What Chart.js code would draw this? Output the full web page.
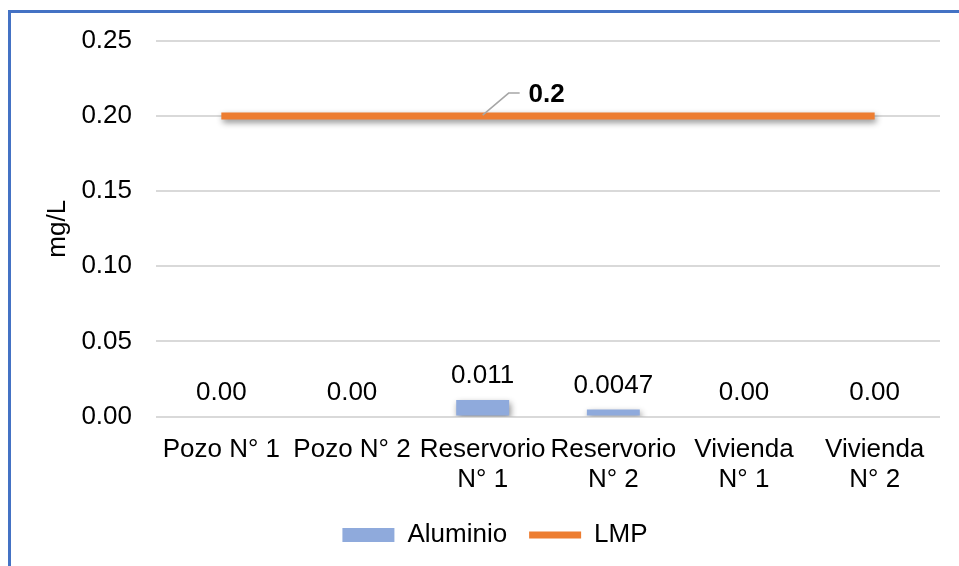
<!DOCTYPE html>
<html>
<head>
<meta charset="utf-8">
<script src="https://cdn.jsdelivr.net/npm/chart.js@4/dist/chart.umd.min.js"></script>
<style>
  html, body { margin: 0; padding: 0; background: #fff; }
  #wrap { position: relative; width: 959px; height: 566px; overflow: hidden; }
  #frame { position: absolute; left: 8px; top: 10px; right: 0; bottom: 0;
           border-left: 3px solid #4472C4; border-top: 3px solid #4472C4; pointer-events: none; }
  canvas { position: absolute; left: 0; top: 0; }
</style>
</head>
<body>
<div id="wrap">
  <canvas id="c" width="959" height="566"></canvas>
  <div id="frame"></div>
</div>
<script>
// Sampling points
const categories = [
  'Pozo N° 1',
  'Pozo N° 2',
  ['Reservorio', 'N° 1'],
  ['Reservorio', 'N° 2'],
  ['Vivienda', 'N° 1'],
  ['Vivienda', 'N° 2']
];
// Measured aluminium (mg/L)
const aluminio = [0, 0, 0.011, 0.0047, 0, 0];
// Maximum permissible limit (mg/L)
const lmp = [0.2, 0.2, 0.2, 0.2, 0.2, 0.2];
// Y axis ticks
const yTicks = [0, 0.05, 0.10, 0.15, 0.20, 0.25];

const FONT = 'Liberation Sans, Arial, sans-serif';
const FS = 26;
const BAR_COLOR = '#8FAADC';
const LINE_COLOR = '#ED7D31';

function fmtAl(v) { return v === 0 ? '0.00' : String(v); }

// Soft drop shadow under bars and the limit line
const shadowPlugin = {
  id: 'shadow',
  beforeDatasetDraw(chart) {
    const ctx = chart.ctx;
    ctx.save();
    ctx.shadowColor = 'rgba(0,0,0,0.45)';
    ctx.shadowBlur = 6;
    ctx.shadowOffsetX = 1.5;
    ctx.shadowOffsetY = 3;
  },
  afterDatasetDraw(chart) { chart.ctx.restore(); }
};

// Value labels
const labelPlugin = {
  id: 'valueLabels',
  afterDatasetsDraw(chart) {
    const ctx = chart.ctx;
    ctx.save();
    ctx.fillStyle = '#000';
    ctx.textAlign = 'center';
    ctx.textBaseline = 'middle';
    ctx.font = FS + 'px ' + FONT;
    const barMeta = chart.getDatasetMeta(0);
    barMeta.data.forEach((el, i) => {
      ctx.fillText(fmtAl(aluminio[i]), el.x, el.y - 24);
    });
    // limit label with leader line
    const lineMeta = chart.getDatasetMeta(1);
    const p = lineMeta.data[2];
    ctx.strokeStyle = '#A6A6A6';
    ctx.lineWidth = 1.5;
    ctx.beginPath();
    ctx.moveTo(p.x, p.y - 1);
    ctx.lineTo(p.x + 26, p.y - 23);
    ctx.lineTo(p.x + 37, p.y - 23);
    ctx.stroke();
    ctx.font = 'bold ' + FS + 'px ' + FONT;
    ctx.fillText(String(lmp[2]), p.x + 64, p.y - 21);
    ctx.restore();
  }
};

new Chart(document.getElementById('c'), {
  data: {
    labels: categories,
    datasets: [
      {
        type: 'bar',
        label: 'Aluminio',
        data: aluminio,
        backgroundColor: BAR_COLOR,
        borderWidth: 0,
        categoryPercentage: 1.0,
        barPercentage: 0.405
      },
      {
        type: 'line',
        label: 'LMP',
        data: lmp,
        borderColor: LINE_COLOR,
        backgroundColor: LINE_COLOR,
        borderWidth: 7,
        borderCapStyle: 'butt',
        pointRadius: 0,
        pointHoverRadius: 0,
        tension: 0
      }
    ]
  },
  options: {
    responsive: false,
    animation: false,
    devicePixelRatio: 1,
    layout: { padding: { top: 41, left: 50, right: 19, bottom: 8 } },
    plugins: {
      tooltip: { enabled: false },
      legend: {
        position: 'bottom',
        labels: {
          usePointStyle: true,
          pointStyleWidth: 52,
          boxHeight: 14,
          padding: 22,
          color: '#000',
          font: { family: FONT, size: FS },
          generateLabels(chart) {
            return chart.data.datasets.map((ds, i) => ({
              text: ds.label,
              fillStyle: i === 0 ? BAR_COLOR : LINE_COLOR,
              strokeStyle: i === 0 ? BAR_COLOR : LINE_COLOR,
              lineWidth: i === 0 ? 0 : 7,
              pointStyle: i === 0 ? 'rect' : 'line',
              fontColor: '#000',
              hidden: false,
              datasetIndex: i
            }));
          }
        }
      }
    },
    scales: {
      x: {
        offset: true,
        grid: { display: false, drawTicks: false },
        border: { display: false },
        ticks: {
          autoSkip: false,
          maxRotation: 0,
          minRotation: 0,
          padding: 19,
          color: '#000',
          font: { family: FONT, size: FS, lineHeight: 1.13 }
        },
        afterFit(scale) { scale.height = 83.5; }
      },
      y: {
        min: 0,
        max: 0.25,
        afterBuildTicks(scale) { scale.ticks = yTicks.map(v => ({ value: v })); },
        grid: { color: '#D9D9D9', lineWidth: 2, drawTicks: false },
        border: { display: false },
        ticks: {
          padding: 24,
          color: '#000',
          font: { family: FONT, size: FS },
          callback: v => Number(v).toFixed(2)
        },
        title: {
          display: true,
          text: 'mg/L',
          color: '#000',
          padding: { top: 1.5, bottom: 0 },
          font: { family: FONT, size: FS, lineHeight: 0.5 }
        },
        afterFit(scale) { scale.width = 106; }
      }
    }
  },
  plugins: [shadowPlugin, labelPlugin]
});
</script>
</body>
</html>
